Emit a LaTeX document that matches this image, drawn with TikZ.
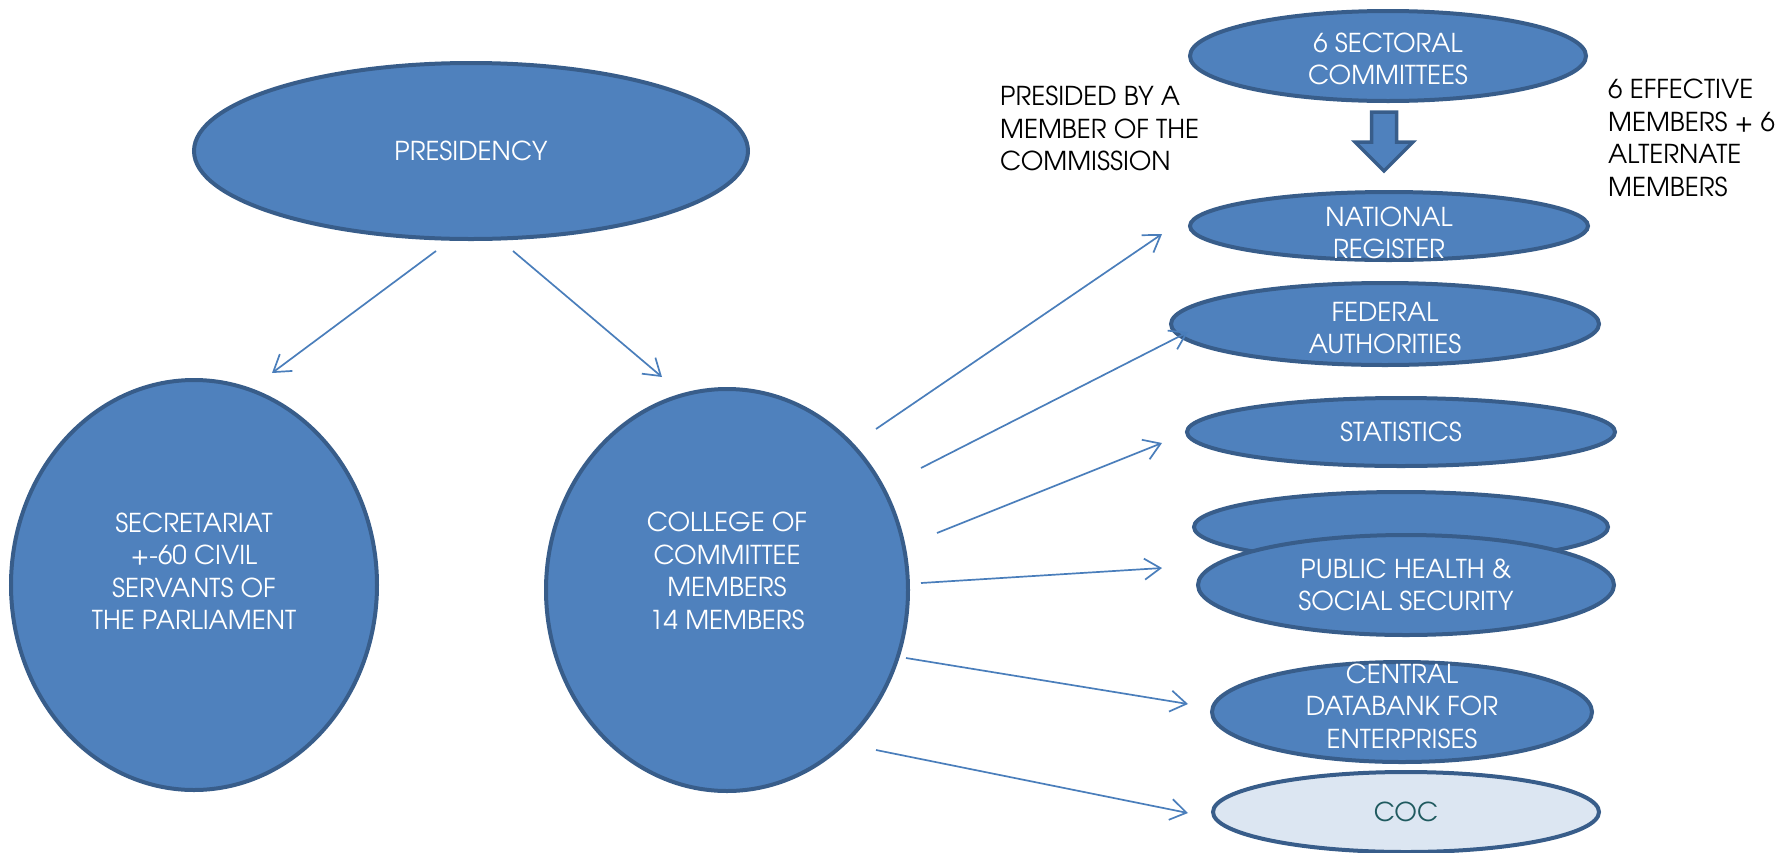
\documentclass[tikz,border=0pt]{standalone}
\usepackage{fontspec}
\setmainfont{TeX Gyre Adventor}
\usetikzlibrary{arrows.meta,shapes.geometric}
\definecolor{fillblue}{HTML}{4F81BD}
\definecolor{edgeblue}{HTML}{385D8A}
\definecolor{lineblue}{HTML}{4A7EBB}
\definecolor{cocfill}{HTML}{DCE6F2}
\definecolor{coctext}{HTML}{1F5A5F}
\begin{document}
\begin{tikzpicture}[x=1pt,y=-1pt,
  ell/.style={draw=edgeblue, fill=fillblue, line width=4pt, ellipse, inner sep=0pt},
  wtxt/.style={text=white, align=center, inner sep=0pt, font=\fontsize{26}{32.5}\selectfont},
  btxt/.style={text=black, align=left, inner sep=0pt, anchor=north west, font=\fontsize{26}{32.5}\selectfont},
  conn/.style={draw=lineblue, line width=1.7pt, -{Straight Barb[length=16pt,width=21pt,line width=1.7pt]}},
  blk/.style={draw=edgeblue, fill=fillblue, line width=3.5pt, line join=miter},
]
\useasboundingbox (0,0) rectangle (1791,852);

% ellipses
\node[ell, minimum width=554pt, minimum height=176pt] (pres) at (471,151) {};
\node[ell, minimum width=366pt, minimum height=410pt] (sec) at (194,585) {};
\node[ell, minimum width=362pt, minimum height=402pt] (col) at (727,590) {};
\node[ell, minimum width=396pt, minimum height=90pt] (sect) at (1388,56) {};
\node[ell, minimum width=398pt, minimum height=68pt] (nr) at (1389,226) {};
\node[ell, minimum width=428pt, minimum height=82pt] (fa) at (1385,324) {};
\node[ell, minimum width=428pt, minimum height=68pt] (st) at (1401,432) {};
\node[ell, minimum width=414pt, minimum height=70pt] (hid) at (1401,527) {};
\node[ell, minimum width=416pt, minimum height=100pt] (ph) at (1406,585) {};
\node[ell, minimum width=380pt, minimum height=100pt] (cd) at (1402,712) {};
\node[ell, fill=cocfill, minimum width=386pt, minimum height=80pt] (coc) at (1406,812) {};

% texts in ellipses
\node[wtxt] (presT) at (pres.center) {PRESIDENCY};
\node[wtxt] (secT) at ([yshift=14pt]sec.center) {SECRETARIAT\\+-60 CIVIL\\SERVANTS OF\\THE PARLIAMENT};
\node[wtxt] (colT) at ([yshift=19pt]col.center) {COLLEGE OF\\COMMITTEE\\MEMBERS\\14 MEMBERS};
\node[wtxt] (sectT) at ([yshift=-3pt]sect.center) {6 SECTORAL\\COMMITTEES};
\node[wtxt] (nrT) at ([yshift=-7pt]nr.center) {NATIONAL\\REGISTER};
\node[wtxt] (faT) at ([yshift=-4pt]fa.center) {FEDERAL\\AUTHORITIES};
\node[wtxt] (stT) at (st.center) {STATISTICS};
\node[wtxt] (phT) at (ph.center) {PUBLIC HEALTH \&\\SOCIAL SECURITY};
\node[wtxt] (cdT) at ([yshift=6pt]cd.center) {CENTRAL\\DATABANK FOR\\ENTERPRISES};
\node[wtxt, text=coctext] (cocT) at (coc.center) {COC};

% side texts
\node[btxt] (presided) at (1000,86) {PRESIDED BY A\\MEMBER OF THE\\COMMISSION};
\node[btxt] (effective) at (1608,79) {6 EFFECTIVE\\MEMBERS + 6\\ALTERNATE\\MEMBERS};

% block arrow
\coordinate (ba) at (1384,112);
\draw[blk] (ba) ++(-12.5,0) -- ++(25,0) -- ++(0,30) -- ++(16.5,0) -- ++(-29,29) -- ++(-29,-29) -- ++(16.5,0) -- cycle;

% connector end points
\coordinate (ps1) at (436,251);  \coordinate (ps2) at (272,373);
\coordinate (pc1) at (513,251);  \coordinate (pc2) at (662,377);
\coordinate (cn1) at (876,429);  \coordinate (cn2) at (1162,234);
\coordinate (cf1) at (921,468);  \coordinate (cf2) at (1188,332);
\coordinate (cs1) at (937,533);  \coordinate (cs2) at (1162,443);
\coordinate (cp1) at (921,583);  \coordinate (cp2) at (1162,568);
\coordinate (cd1) at (906,658);  \coordinate (cd2) at (1188,704);
\coordinate (cc1) at (876,750);  \coordinate (cc2) at (1188,813);

\draw[conn] (ps1) -- (ps2);
\draw[conn] (pc1) -- (pc2);
\draw[conn] (cn1) -- (cn2);
\draw[conn] (cf1) -- (cf2);
\draw[conn] (cs1) -- (cs2);
\draw[conn] (cp1) -- (cp2);
\draw[conn] (cd1) -- (cd2);
\draw[conn] (cc1) -- (cc2);
\end{tikzpicture}
\end{document}
